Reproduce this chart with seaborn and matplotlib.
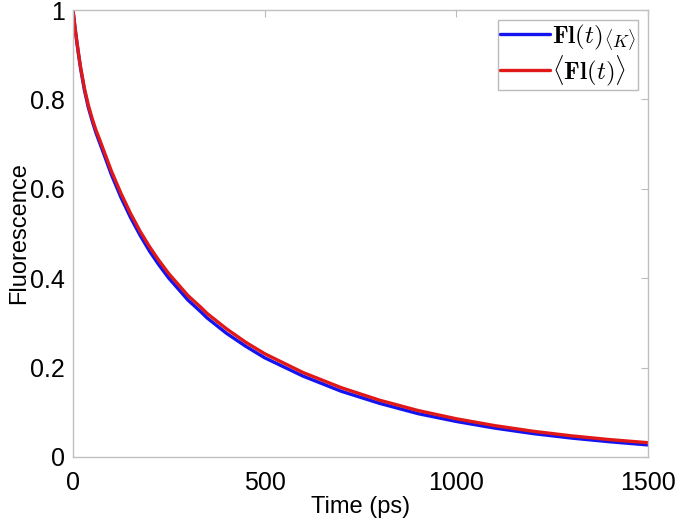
import numpy as np
import pandas as pd
import matplotlib
matplotlib.use("Agg")
import matplotlib.pyplot as plt
import seaborn as sns
from matplotlib.lines import Line2D

time_ps = [0, 5, 10, 15, 20, 30, 40, 50, 60, 70, 80, 100, 125, 150, 175, 200, 223,
           250, 300, 332, 350, 400, 450, 500, 600, 700, 800, 900, 1000, 1100, 1200,
           1300, 1400, 1500]
fl_avg = [1.000, 0.963, 0.930, 0.899, 0.871, 0.824, 0.787, 0.757, 0.731, 0.709, 0.686,
          0.640, 0.590, 0.545, 0.505, 0.470, 0.441, 0.410, 0.361, 0.336, 0.321, 0.287,
          0.257, 0.231, 0.189, 0.155, 0.127, 0.104, 0.0855, 0.0702, 0.0576, 0.0473,
          0.0389, 0.032]
fl_k = [1.000, 0.961, 0.928, 0.897, 0.868, 0.820, 0.782, 0.752, 0.725, 0.702, 0.679,
        0.632, 0.581, 0.536, 0.496, 0.460, 0.431, 0.400, 0.351, 0.326, 0.311, 0.277,
        0.248, 0.222, 0.181, 0.147, 0.120, 0.097, 0.0795, 0.0647, 0.0524, 0.0424,
        0.0341, 0.027]
labels = [r"$\mathbf{Fl}(t)_{\langle K\rangle}$", r"$\langle\mathbf{Fl}(t)\rangle$"]
colors = ["#1414f0", "#e01818"]

sns.set_style("white")
plt.rcParams["font.family"] = ["Liberation Sans", "DejaVu Sans"]
plt.rcParams["mathtext.fontset"] = "cm"
plt.rcParams["text.color"] = "black"
plt.rcParams["axes.labelcolor"] = "black"
plt.rcParams["xtick.color"] = "black"
plt.rcParams["ytick.color"] = "black"

df = pd.DataFrame({
    "t": time_ps * 2,
    "y": fl_k + fl_avg,
    "series": [labels[0]] * len(time_ps) + [labels[1]] * len(time_ps),
})

fig = plt.figure(figsize=(6.76, 5.22), dpi=100)
ax = fig.add_axes([73 / 676, 1 - 457 / 522, (648 - 73) / 676, (457 - 10) / 522])
sns.lineplot(data=df, x="t", y="y", hue="series", palette=colors, linewidth=2.4,
             ax=ax, legend=False, estimator=None)

ax.set_xlim(0, 1500)
ax.set_ylim(0, 1)
ax.set_xticks([0, 500, 1000, 1500])
ax.set_yticks([0, 0.2, 0.4, 0.6, 0.8, 1])
ax.set_yticklabels(["0", "0.2", "0.4", "0.6", "0.8", "1"])
ax.set_xlabel("Time (ps)", fontsize=17, labelpad=1)
ax.set_ylabel("Fluorescence", fontsize=17, labelpad=0)
ax.tick_params(axis="both", direction="in", length=5, width=0.8, color="#bbbbbb",
               labelcolor="black", labelsize=18, top=True, right=True)
ax.tick_params(axis="x", pad=10)
ax.tick_params(axis="y", pad=6)
for s in ax.spines.values():
    s.set_visible(True)
    s.set_color("#c0c0c0")
    s.set_linewidth(1.0)

handles = [Line2D([], [], color=c, linewidth=2.4) for c in colors]
leg = ax.legend(handles, labels, loc="upper right", fontsize=18, frameon=True,
                fancybox=False, edgecolor="#aaaaaa", handlelength=2.0,
                handletextpad=0.05, borderpad=0.1, labelspacing=0.0,
                borderaxespad=0.4)
leg.get_frame().set_linewidth(1.0)

fig.savefig("out.png", dpi=100)
